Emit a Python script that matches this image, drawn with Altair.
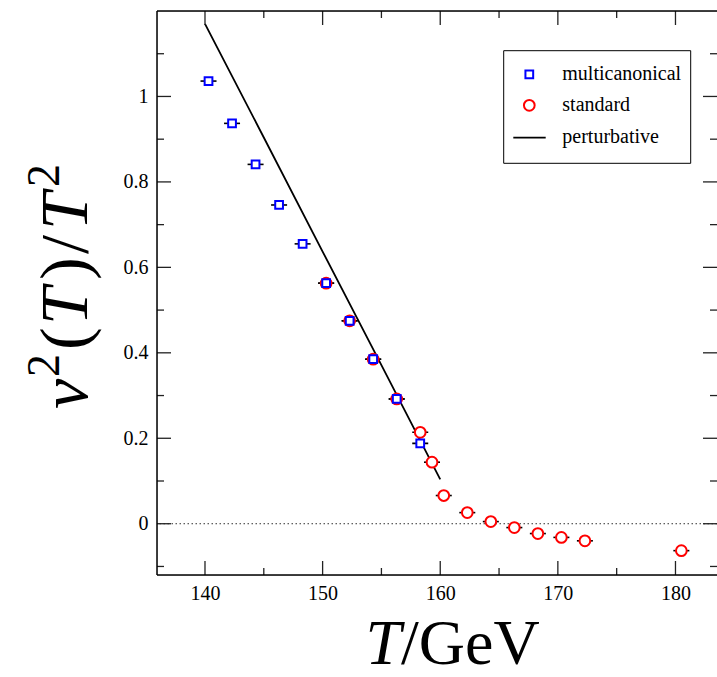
import altair as alt
import pandas as pd

# ---- data ----
multi_T = [140.3, 142.3, 144.3, 146.3, 148.3, 150.3, 152.3, 154.3, 156.3, 158.3]
multi_v = [1.036, 0.937, 0.841, 0.746, 0.655, 0.563, 0.475, 0.385, 0.292, 0.188]

std_T = [150.3, 152.3, 154.3, 156.3, 158.3, 159.3, 160.3, 162.3, 164.3, 166.3,
         168.3, 170.3, 172.3, 180.5]
std_v = [0.563, 0.475, 0.385, 0.292, 0.214, 0.144, 0.066, 0.026, 0.005, -0.009,
         -0.023, -0.032, -0.040, -0.063]

pert_T = [140.0, 145.0, 150.0, 155.0, 160.0]
pert_v = [1.170, 0.904, 0.637, 0.371, 0.104]

x_major = [140, 150, 160, 170, 180]
x_minor = [145, 155, 165, 175]
y_major = [0.0, 0.2, 0.4, 0.6, 0.8, 1.0]
y_minor = [-0.1, 0.1, 0.3, 0.5, 0.7, 0.9, 1.1]

legend_names = ["multicanonical", "standard", "perturbative"]

# ---- layout ----
W, H = 560, 564
FONT = "'Liberation Serif', 'Times New Roman', 'DejaVu Serif', serif"
MAJ, MIN = 14, 7

xs = alt.Scale(domain=[135.92, 183.53], nice=False, zero=False)
ys = alt.Scale(domain=[-0.12, 1.2], nice=False, zero=False)

xaxis = alt.Axis(values=x_major, ticks=False, domain=False, grid=False,
                 labelFont=FONT, labelFontSize=20, labelColor="black",
                 labelPadding=8, title=None, format="d")
yaxis = alt.Axis(values=y_major, ticks=False, domain=False, grid=False,
                 labelFont=FONT, labelFontSize=20, labelColor="black",
                 labelPadding=9, title=None,
                 labelExpr="format(datum.value, '.1~f')")

def X(f):
    return alt.X(f, type="quantitative", scale=xs, axis=xaxis)

def Y(f):
    return alt.Y(f, type="quantitative", scale=ys, axis=yaxis)

multi_df = pd.DataFrame({"T": multi_T, "v": multi_v})
std_df = pd.DataFrame({"T": std_T, "v": std_v})
pert_df = pd.DataFrame({"T": pert_T, "v": pert_v})
all_df = pd.concat([multi_df, std_df], ignore_index=True)
one = pd.DataFrame({"a": [0]})

layers = []

# zero dotted line
layers.append(alt.Chart(pd.DataFrame({"z": [0.0]})).mark_rule(
    color="#333333", strokeWidth=1, strokeDash=[1.5, 2.5]).encode(y=Y("z")))

# perturbative line
layers.append(alt.Chart(pert_df).mark_line(color="black", strokeWidth=1.8).encode(
    x=X("T"), y=Y("v")))

# error caps
layers.append(alt.Chart(all_df).mark_tick(
    orient="horizontal", size=16, thickness=1.6, color="black", opacity=1).encode(
    x=X("T"), y=Y("v")))

# standard (red circles)
layers.append(alt.Chart(std_df).mark_point(
    shape="circle", filled=True, fill="white", stroke="#ff0000", strokeWidth=2,
    size=115, opacity=1).encode(x=X("T"), y=Y("v")))

# multicanonical (blue squares)
layers.append(alt.Chart(multi_df).mark_point(
    shape="square", filled=True, fill="white", stroke="#0000ff", strokeWidth=2,
    size=60, opacity=1).encode(x=X("T"), y=Y("v")))

# ticks (inward, on all four sides)
xmaj = pd.DataFrame({"t": x_major})
xmin = pd.DataFrame({"t": x_minor})
ymaj = pd.DataFrame({"t": y_major})
ymin = pd.DataFrame({"t": y_minor})
tick_style = dict(color="#222222", strokeWidth=1.3)
for df, L in [(xmaj, MAJ), (xmin, MIN)]:
    layers.append(alt.Chart(df).mark_rule(**tick_style).encode(
        x=X("t"), y=alt.value(H), y2=alt.value(H - L)))
    layers.append(alt.Chart(df).mark_rule(**tick_style).encode(
        x=X("t"), y=alt.value(0), y2=alt.value(L)))
for df, L in [(ymaj, MAJ), (ymin, MIN)]:
    layers.append(alt.Chart(df).mark_rule(**tick_style).encode(
        y=Y("t"), x=alt.value(0), x2=alt.value(L)))
    layers.append(alt.Chart(df).mark_rule(**tick_style).encode(
        y=Y("t"), x=alt.value(W), x2=alt.value(W - L)))

# frame (left, top, bottom)
frame_style = dict(color="black", strokeWidth=1.5)
layers.append(alt.Chart(one).mark_rule(**frame_style).encode(
    x=alt.value(0), y=alt.value(0), y2=alt.value(H)))
layers.append(alt.Chart(one).mark_rule(**frame_style).encode(
    x=alt.value(0), x2=alt.value(W + 2), y=alt.value(0)))
layers.append(alt.Chart(one).mark_rule(**frame_style).encode(
    x=alt.value(0), x2=alt.value(W + 2), y=alt.value(H)))

# legend
layers.append(alt.Chart(one).mark_rect(fill="white", stroke="black", strokeWidth=1).encode(
    x=alt.value(346.7), x2=alt.value(533.7), y=alt.value(39.7), y2=alt.value(152.3)))
layers.append(alt.Chart(one).mark_point(
    shape="square", filled=True, fill="white", stroke="#0000ff", strokeWidth=2,
    size=60, opacity=1).encode(x=alt.value(372.3), y=alt.value(63.3)))
layers.append(alt.Chart(one).mark_point(
    shape="circle", filled=True, fill="white", stroke="#ff0000", strokeWidth=2,
    size=115, opacity=1).encode(x=alt.value(372.3), y=alt.value(94.3)))
layers.append(alt.Chart(one).mark_rule(color="black", strokeWidth=1.8).encode(
    x=alt.value(356.3), x2=alt.value(388.7), y=alt.value(126.7)))
for name, yy in zip(legend_names, [63.3, 94.3, 126.0]):
    layers.append(alt.Chart(one).mark_text(
        text=name, font=FONT, fontSize=20, align="left", baseline="middle",
        color="black").encode(x=alt.value(405.3), y=alt.value(yy)))

# x title: T/GeV
TS = 64
layers.append(alt.Chart(one).mark_text(
    text="T", font=FONT, fontSize=TS, fontStyle="italic", align="right",
    baseline="alphabetic", color="black").encode(x=alt.value(244), y=alt.value(653)))
layers.append(alt.Chart(one).mark_text(
    text="/GeV", font=FONT, fontSize=TS, align="left",
    baseline="alphabetic", color="black").encode(x=alt.value(244), y=alt.value(653)))

# y title: v^2(T)/T^2  (rotated pieces, reading bottom to top)
YS = 68
SS = 46
base_x = -70
sup_x = -98
pieces = [
    ("v", YS, "italic", base_x, 398),
    ("2", SS, "normal", sup_x, 366),
    ("(", YS, "normal", base_x, 339),
    ("T", YS, "italic", base_x, 314),
    (")", YS, "normal", base_x, 269),
    ("/", YS, "normal", base_x, 243),
    ("T", YS, "italic", base_x, 219),
    ("2", SS, "normal", sup_x, 176),
]
for txt, fs, style, px, py in pieces:
    layers.append(alt.Chart(one).mark_text(
        text=txt, font=FONT, fontSize=fs, fontStyle=style, align="left",
        baseline="alphabetic", angle=270, color="black").encode(
        x=alt.value(px), y=alt.value(py)))

chart = alt.layer(*layers).properties(
    width=W, height=H,
    autosize=alt.AutoSizeParams(type="none"),
    padding={"left": 157, "top": 11, "right": 0, "bottom": 102},
).configure_view(stroke=None).configure(background="white")

chart.save("out.html", embed_options={"renderer": "svg", "actions": False})
